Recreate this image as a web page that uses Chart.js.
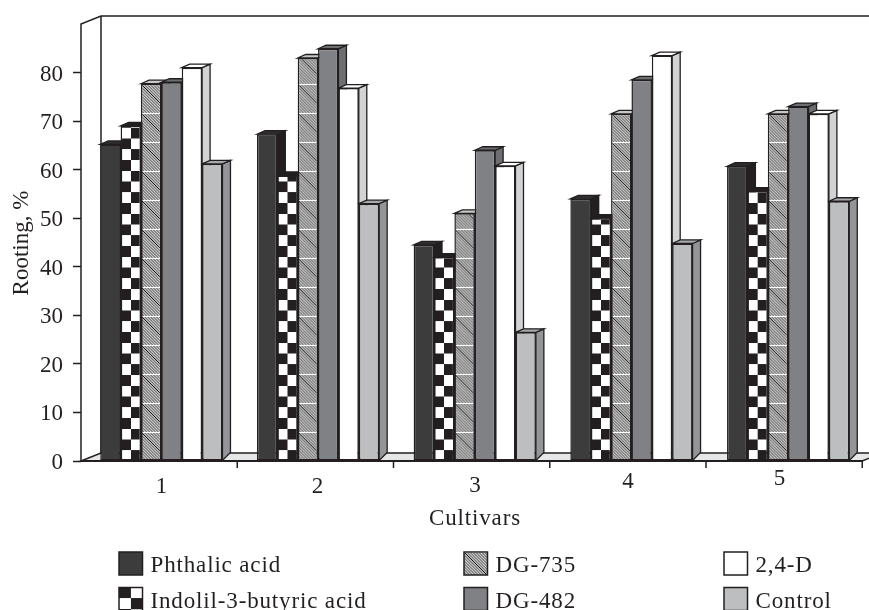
<!DOCTYPE html>
<html>
<head>
<meta charset="utf-8">
<style>
  html, body { margin: 0; padding: 0; background: #fff; }
  #wrap { width: 869px; height: 610px; }
</style>
<script src="https://cdn.jsdelivr.net/npm/chart.js@4"></script>
</head>
<body>
<div id="wrap"><canvas id="chart" width="869" height="610"></canvas></div>
<script>
/* --------------------- DATA -------------------- */
const cultivars = ["1", "2", "3", "4", "5"];
const phthalic = [65.2, 67.3, 44.5, 54, 60.7];
const indolil = [69, 58.8, 42, 50, 55.6];
const dg735 = [77.7, 83, 51, 71.5, 71.5];
const dg482 = [78, 84.9, 64, 78.5, 73];
const twoFourD = [81, 76.8, 60.8, 83.5, 71.5];
const control = [61.2, 53, 26.5, 44.8, 53.5];
const yTicks = [0, 10, 20, 30, 40, 50, 60, 70, 80];

const seriesNames = ["Phthalic acid", "Indolil-3-butyric acid", "DG-735", "DG-482", "2,4-D", "Control"];

/* --------------------- STYLE -------------------- */
const INK = "#231f20";
const FONT = '23px "Liberation Serif"';
const sideColors = ["#231f20", "#231f20", "#bdbdbd", "#6d6e71", "#d1d3d4", "#939598"];
const topColors = ["#2e2e2e", "#231f20", "#c9c9c9", "#6d6e71", "#ffffff", "#a7a9ac"];

const BAR_SHIFT = 2;   // bars sit a little right of the category centre
const DEPTH_X = 8;
const DEPTH_TOP = 3.5;
const WALL_X = 20;
const WALL_Y = 8;
const CAT_PCT = 0.78;

/* --------------------- PATTERNS -------------------- */
function makeTile(w, h, paint) {
  const c = document.createElement("canvas");
  c.width = w;
  c.height = h;
  paint(c.getContext("2d"), w, h);
  return c;
}

const checkerTile = makeTile(40, 40, (g) => {
  g.fillStyle = "#fff";
  g.fillRect(0, 0, 40, 40);
  g.fillStyle = INK;
  // row touching the base: white then black
  g.fillRect(20, 20, 20, 20);
  g.fillRect(0, 0, 20, 20);
});

const hatchTile = makeTile(29, 29, (g) => {
  g.fillStyle = "#dcdcdc";
  g.fillRect(0, 0, 29, 29);
  g.strokeStyle = "#6f6f6f";
  g.lineWidth = 1.1;
  for (let i = -20; i <= 20; i++) {
    const x = i * 2.9;
    g.beginPath();
    g.moveTo(x, 0);
    g.lineTo(x + 29, 29);
    g.stroke();
  }
  g.strokeStyle = "#111";
  g.lineWidth = 1;
  g.beginPath();
  g.moveTo(0, 0);
  g.lineTo(29, 29);
  g.stroke();
  g.fillStyle = "#fff";
  g.fillRect(0, 0, 29, 1);
});

function checkerFill(ctx2d, x, base, size) {
  const p = ctx2d.createPattern(checkerTile, "repeat");
  p.setTransform(new DOMMatrix().translate(x, base).scale(size / 40, 21.5 / 40));
  return p;
}

function hatchFill(ctx2d, x, base) {
  const p = ctx2d.createPattern(hatchTile, "repeat");
  p.setTransform(new DOMMatrix().translate(x, base));
  return p;
}

function barLeft(chart, ds, i) {
  const sc = chart.scales.x;
  const step = sc.width / cultivars.length;
  const w = step * CAT_PCT / 6;
  return { left: sc.getPixelForValue(i) + (ds - 3) * w, w };
}

function faceColor(solid, kind) {
  return (c) => {
    if (!kind || c.dataIndex === undefined) return solid;
    const chart = c.chart;
    const { left, w } = barLeft(chart, c.datasetIndex, c.dataIndex);
    const base = chart.scales.y.getPixelForValue(0);
    return kind === "checker" ? checkerFill(chart.ctx, left, base, w) : hatchFill(chart.ctx, left, base);
  };
}

/* --------------------- 3D FRAME + BAR DEPTH -------------------- */
const frame3d = {
  id: "frame3d",
  beforeDatasetsDraw(chart) {
    const { ctx, chartArea: a } = chart;
    const left = a.left, bot = a.bottom, top = a.top;
    const tickStep = 156.25;
    const axisEnd = left + tickStep * 5;

    ctx.save();
    ctx.strokeStyle = INK;
    ctx.lineWidth = 1.5;

    // floor
    ctx.fillStyle = "#e6e7e8";
    ctx.beginPath();
    ctx.moveTo(left, bot);
    ctx.lineTo(left + WALL_X, bot - WALL_Y);
    ctx.lineTo(axisEnd + WALL_X, bot - WALL_Y);
    ctx.lineTo(axisEnd, bot);
    ctx.closePath();
    ctx.fill();
    ctx.stroke();

    // left wall and back wall
    ctx.beginPath();
    ctx.moveTo(left, bot);
    ctx.lineTo(left, top);
    ctx.lineTo(left + WALL_X, top - WALL_Y);
    ctx.lineTo(869, top - WALL_Y);
    ctx.moveTo(left + WALL_X, top - WALL_Y);
    ctx.lineTo(left + WALL_X, bot - WALL_Y);
    ctx.stroke();

    // x ticks at the group boundaries
    ctx.beginPath();
    for (let i = 1; i <= 5; i++) {
      const x = left + tickStep * i;
      ctx.moveTo(x, bot);
      ctx.lineTo(x, bot + 7);
    }
    ctx.stroke();

    // bar depth, left to right so the later bars cover the earlier sides
    ctx.translate(BAR_SHIFT, 0);
    ctx.lineWidth = 1.3;
    cultivars.forEach((_, i) => {
      chart.data.datasets.forEach((_, d) => {
        const bar = chart.getDatasetMeta(d).data[i];
        const x0 = bar.x - bar.width / 2;
        const x1 = bar.x + bar.width / 2;
        ctx.fillStyle = sideColors[d];
        ctx.beginPath();
        ctx.moveTo(x1, bar.y);
        ctx.lineTo(x1 + DEPTH_X, bar.y - DEPTH_TOP);
        ctx.lineTo(x1 + DEPTH_X, bar.base - WALL_Y);
        ctx.lineTo(x1, bar.base);
        ctx.closePath();
        ctx.fill();
        ctx.stroke();
        ctx.fillStyle = topColors[d];
        ctx.beginPath();
        ctx.moveTo(x0, bar.y);
        ctx.lineTo(x0 + DEPTH_X, bar.y - DEPTH_TOP);
        ctx.lineTo(x1 + DEPTH_X, bar.y - DEPTH_TOP);
        ctx.lineTo(x1, bar.y);
        ctx.closePath();
        ctx.fill();
        ctx.stroke();
      });
    });
    ctx.restore();

    // the faces follow with the same shift
    ctx.save();
    ctx.translate(BAR_SHIFT, 0);
  },
  afterDatasetsDraw(chart) {
    const { ctx, chartArea: a } = chart;
    ctx.restore();
    // front baseline
    ctx.save();
    ctx.strokeStyle = INK;
    ctx.lineWidth = 2;
    ctx.beginPath();
    ctx.moveTo(a.left, a.bottom);
    ctx.lineTo(a.left + 156.25 * 5, a.bottom);
    ctx.stroke();
    ctx.restore();
  }
};

/* --------------------- TEXT + LEGEND -------------------- */
const labelSpots = [[161.5, 492.5], [317.5, 492.5], [475, 492], [628, 488], [779.5, 485]];
const legendSpots = [[119, 552], [119, 587.5], [464, 552], [464, 587.5], [724, 552], [724, 587.5]];
const legendFills = ["#3c3c3c", null, null, "#808184", "#ffffff", "#bcbec0"];

const textAndLegend = {
  id: "textAndLegend",
  afterDraw(chart) {
    const { ctx } = chart;
    ctx.save();
    ctx.fillStyle = INK;
    ctx.font = FONT;
    ctx.textAlign = "center";
    ctx.textBaseline = "alphabetic";

    cultivars.forEach((t, i) => ctx.fillText(t, labelSpots[i][0], labelSpots[i][1]));
    ctx.letterSpacing = "0.85px";
    ctx.fillText("Cultivars", 475, 525);
    ctx.letterSpacing = "0px";

    ctx.save();
    ctx.translate(28, 243);
    ctx.rotate(-Math.PI / 2);
    ctx.fillText("Rooting, %", 0, 0);
    ctx.restore();

    ctx.textAlign = "left";
    ctx.letterSpacing = "0.85px";
    seriesNames.forEach((name, i) => {
      const [x, y] = legendSpots[i];
      let fill = legendFills[i];
      if (i === 1) fill = checkerFill(ctx, x, y, 23.5);
      if (i === 2) fill = hatchFill(ctx, x, y);
      ctx.fillStyle = fill;
      ctx.fillRect(x, y, 23.5, 23);
      ctx.strokeStyle = INK;
      ctx.lineWidth = 1.5;
      ctx.strokeRect(x, y, 23.5, 23);
      ctx.fillStyle = INK;
      ctx.fillText(name, x + 31.5, y + 20);
    });
    ctx.restore();
  }
};

/* --------------------- CHART -------------------- */
function series(i, values, solid, kind) {
  return {
    label: seriesNames[i],
    data: values,
    backgroundColor: faceColor(solid, kind),
    borderColor: INK,
    borderWidth: 1.5,
    borderSkipped: false,
    categoryPercentage: CAT_PCT,
    barPercentage: 1
  };
}

new Chart(document.getElementById("chart"), {
  type: "bar",
  data: {
    labels: cultivars,
    datasets: [
      series(0, phthalic, "#3c3c3c"),
      series(1, indolil, "#ffffff", "checker"),
      series(2, dg735, "#dcdcdc", "hatch"),
      series(3, dg482, "#808184"),
      series(4, twoFourD, "#ffffff"),
      series(5, control, "#bcbec0")
    ]
  },
  options: {
    responsive: false,
    devicePixelRatio: 1,
    animation: false,
    layout: { padding: { top: 24, right: 4.5, bottom: 80, left: 0 } },
    plugins: { legend: { display: false }, tooltip: { enabled: false } },
    scales: {
      x: {
        grid: { display: false },
        border: { display: false },
        ticks: { display: false },
        afterFit: (s) => { s.height = 69; }
      },
      y: {
        min: 0,
        max: 90,
        afterFit: (s) => { s.width = 81; },
        afterBuildTicks: (s) => { s.ticks = yTicks.map((v) => ({ value: v })); },
        grid: { drawOnChartArea: false, tickLength: 8, tickColor: INK, tickWidth: 1.5 },
        border: { display: false },
        ticks: {
          padding: 10,
          labelOffset: 2,
          color: INK,
          font: { family: "Liberation Serif", size: 23 }
        }
      }
    }
  },
  plugins: [frame3d, textAndLegend]
});
</script>
</body>
</html>
